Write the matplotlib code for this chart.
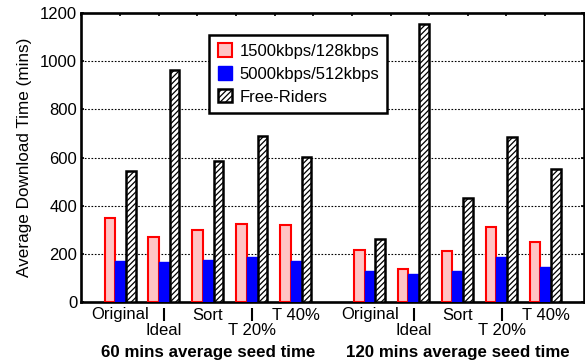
import matplotlib
matplotlib.use("Agg")
import matplotlib.pyplot as plt
import numpy as np
from matplotlib.transforms import blended_transform_factory

plt.rcParams['font.family'] = ['Liberation Sans', 'DejaVu Sans']
plt.rcParams['hatch.linewidth'] = 0.9

labels = ['Original', 'Ideal', 'Sort', 'T 20%', 'T 40%']
group_titles = ['60 mins average seed time', '120 mins average seed time']
series_names = ['1500kbps/128kbps', '5000kbps/512kbps', 'Free-Riders']
slow_60 = [348, 270, 299, 323, 319]
fast_60 = [171, 167, 175, 186, 170]
free_60 = [543, 963, 587, 689, 603]
slow_120 = [218, 137, 213, 312, 249]
fast_120 = [131, 117, 131, 186, 148]
free_120 = [264, 1153, 433, 685, 551]
yticks = [0, 200, 400, 600, 800, 1000, 1200]

fig = plt.figure(figsize=(5.85, 3.62), dpi=100)
ax = fig.add_axes([81.3/585, 1-302.3/362, 502.5/585, 289.6/362])

spacing = 1.1375
starts = [1.0, 7.46]
w = 0.266
data = [(slow_60, fast_60, free_60), (slow_120, fast_120, free_120)]

handles = []
for g, (s, f, fr) in enumerate(data):
    xs = starts[g] + spacing*np.arange(len(labels))
    b1 = ax.bar(xs - w, s, w, color='#ffc4c4', edgecolor='#ff0000', linewidth=1.5, zorder=3)
    b2 = ax.bar(xs, f, w, color='#0000ff', edgecolor='#0000ff', linewidth=1.0, zorder=3)
    b3 = ax.bar(xs + w + 0.01, fr, w*0.95, color='white', edgecolor='black', hatch='//////',
                linewidth=1.8, zorder=3)
    if g == 0:
        handles = [b1, b2, b3]

ax.set_xlim(0, 13)
ax.set_ylim(0, 1200)
ax.set_yticks(yticks)
ax.set_xticks(np.arange(0, 14))
ax.tick_params(axis='x', which='both', direction='in', top=True, bottom=False,
               labelbottom=False, length=2.5, width=1.2)
ax.tick_params(axis='y', direction='in', left=True, right=True, length=2.5, width=1.2,
               labelsize=12, pad=3)
for sp in ax.spines.values():
    sp.set_linewidth(1.9)
for yv in yticks[1:-1]:
    ax.axhline(yv, color='black', linewidth=0.8, linestyle=(0, (1.5, 1.5)), zorder=1)

ax.set_ylabel('Average Download Time (mins)', fontsize=12.3, labelpad=6)

trans = blended_transform_factory(ax.transData, ax.transAxes)
ph = 289.6
for g in range(2):
    xs = starts[g] + spacing*np.arange(len(labels))
    for i, lab in enumerate(labels):
        if i % 2 == 0:
            ax.text(xs[i], -12.7/ph, lab, transform=trans, ha='center', va='center', fontsize=12)
        else:
            ax.text(xs[i], -28.5/ph, lab, transform=trans, ha='center', va='center', fontsize=12)
            ax.plot([xs[i], xs[i]], [-5.7/ph, -18.7/ph], transform=trans, color='black',
                    linewidth=1.5, clip_on=False, solid_capstyle='butt')
    ax.text(xs[2], -50/ph, group_titles[g], transform=trans, ha='center', va='center',
            fontsize=12.2, fontweight='bold')

leg = ax.legend(handles, series_names, loc='upper left', bbox_to_anchor=(0.2547, 0.923),
                borderaxespad=0, fontsize=12, handlelength=0.85, handleheight=0.85,
                handletextpad=0.45, borderpad=0.5, labelspacing=0.45, fancybox=False,
                framealpha=1, edgecolor='black')
leg.get_frame().set_linewidth(1.8)

fig.savefig('out.png', dpi=100)
